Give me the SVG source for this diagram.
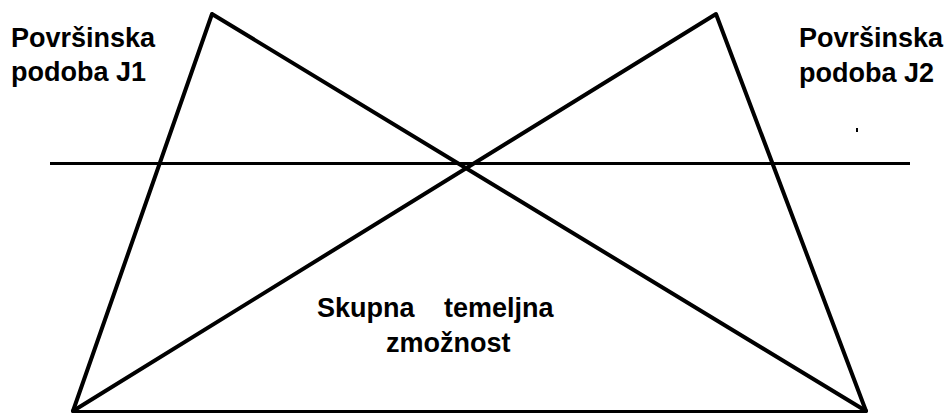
<svg xmlns="http://www.w3.org/2000/svg" width="948" height="416" viewBox="0 0 948 416">
<style>
.t{font-family:"Liberation Sans",Arial,sans-serif;font-weight:bold;font-size:27px;fill:#000}
.e{stroke:#000;stroke-width:4;fill:none;stroke-linecap:round;stroke-linejoin:round}
.h{stroke:#000;stroke-width:3;fill:none}
</style>
<rect width="948" height="416" fill="#fff"/>
<g id="connectors">
<polyline class="e" points="73,411 212,14 866,411"/>
<polyline class="e" points="73,411 716,14 866,411"/>
<line class="h" x1="73" y1="411.5" x2="866" y2="411.5"/>
<line class="h" x1="50" y1="163.5" x2="910" y2="163.5"/>
<line stroke="#000" stroke-width="2" x1="857" y1="128" x2="857" y2="132"/>
</g>
<g id="j1">
<text class="t" x="11" y="47">Površinska</text>
<text class="t" x="11" y="81">podoba J1</text>
</g>
<g id="j2">
<text class="t" x="799" y="47">Površinska</text>
<text class="t" x="799" y="82">podoba J2</text>
</g>
<g id="common">
<text class="t" y="317"><tspan x="317">Skupna</tspan><tspan x="444">temeljna</tspan></text>
<text class="t" x="386" y="352">zmožnost</text>
</g>
</svg>
